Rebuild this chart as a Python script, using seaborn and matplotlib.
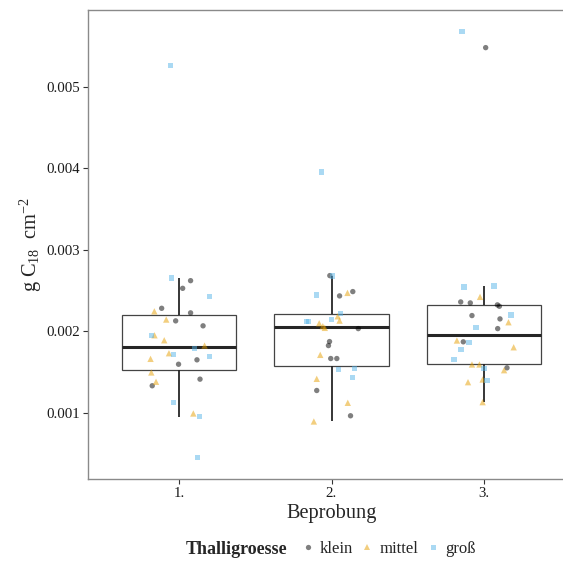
import numpy as np
import pandas as pd
import matplotlib
matplotlib.use("Agg")
import matplotlib.pyplot as plt
from matplotlib.lines import Line2D
import seaborn as sns

# Sampling rounds and thallus size classes
sample_labels = ["1.", "2.", "3."]
size_classes = ["klein", "mittel", "groß"]
class_colors = ["#000000", "#E69F00", "#56B4E9"]
class_markers = ["o", "^", "s"]

# g C18 per cm², one list per sampling round and size class
klein_1 = [0.002620, 0.002526, 0.002281, 0.002225, 0.002127, 0.002066, 0.001649, 0.001595, 0.001412, 0.001331]
mittel_1 = [0.002244, 0.002143, 0.001950, 0.001889, 0.001824, 0.001730, 0.001661, 0.001494, 0.001380, 0.000991]
gross_1 = [0.005254, 0.002653, 0.002421, 0.001943, 0.001784, 0.001710, 0.001686, 0.001122, 0.000951, 0.000449]

klein_2 = [0.002682, 0.002486, 0.002433, 0.002032, 0.001873, 0.001824, 0.001665, 0.001665, 0.001273, 0.000963]
mittel_2 = [0.002470, 0.002183, 0.002130, 0.002097, 0.002061, 0.002041, 0.001710, 0.001416, 0.001122, 0.000893]
gross_2 = [0.003952, 0.002678, 0.002445, 0.002220, 0.002115, 0.002115, 0.002139, 0.001527, 0.001539, 0.001429]

klein_3 = [0.005478, 0.002359, 0.002347, 0.002323, 0.002306, 0.002192, 0.002151, 0.002032, 0.001870, 0.001551]
mittel_3 = [0.002421, 0.002110, 0.001886, 0.001803, 0.001592, 0.001592, 0.001522, 0.001375, 0.001408, 0.001130]
gross_3 = [0.005678, 0.002543, 0.002555, 0.002200, 0.002041, 0.001857, 0.001772, 0.001649, 0.001543, 0.001392]

# Horizontal jitter of each point (fraction of the category spacing)
jit_klein_1 = [0.074, 0.022, -0.116, 0.074, -0.024, 0.156, 0.116, -0.005, 0.136, -0.178]
jit_mittel_1 = [-0.164, -0.086, -0.163, -0.099, 0.166, -0.068, -0.189, -0.184, -0.153, 0.092]
jit_gross_1 = [-0.059, -0.051, 0.199, -0.184, 0.101, -0.038, 0.199, -0.038, 0.134, 0.120]

jit_klein_2 = [-0.011, 0.140, 0.053, 0.176, -0.013, -0.020, -0.005, 0.035, -0.097, 0.125]
jit_mittel_2 = [0.105, 0.041, 0.053, -0.081, -0.057, -0.044, -0.074, -0.097, 0.107, -0.116]
jit_gross_2 = [-0.064, 0.009, -0.097, 0.061, -0.162, -0.149, 0.002, 0.048, 0.153, 0.140]

jit_klein_3 = [0.013, -0.151, -0.088, 0.090, 0.103, -0.077, 0.107, 0.092, -0.134, 0.153]
jit_mittel_3 = [-0.024, 0.163, -0.176, 0.197, -0.077, -0.028, 0.134, -0.103, -0.007, -0.007]
jit_gross_3 = [-0.143, -0.130, 0.068, 0.180, -0.051, -0.097, -0.149, -0.195, 0.002, 0.022]

values = {
    (0, "klein"): (klein_1, jit_klein_1), (0, "mittel"): (mittel_1, jit_mittel_1), (0, "groß"): (gross_1, jit_gross_1),
    (1, "klein"): (klein_2, jit_klein_2), (1, "mittel"): (mittel_2, jit_mittel_2), (1, "groß"): (gross_2, jit_gross_2),
    (2, "klein"): (klein_3, jit_klein_3), (2, "mittel"): (mittel_3, jit_mittel_3), (2, "groß"): (gross_3, jit_gross_3),
}

rows = []
for (pos, cls), (vals, jits) in values.items():
    for v, j in zip(vals, jits):
        rows.append({"pos": pos, "Thalligroesse": cls, "wert": v, "xj": pos + j})
df = pd.DataFrame(rows)

sns.set_style("white")
plt.rcParams["font.family"] = ["Liberation Serif", "DejaVu Serif"]
plt.rcParams["mathtext.fontset"] = "custom"
plt.rcParams["mathtext.rm"] = "Liberation Serif"
plt.rcParams["mathtext.it"] = "Liberation Serif:italic"
plt.rcParams["mathtext.bf"] = "Liberation Serif:bold"

W, H = 563, 561
fig = plt.figure(figsize=(W / 100, H / 100), dpi=100)
ax = fig.add_axes([88 / W, 1 - 479 / H, (575 - 88) / W, (479 - 10) / H])

sns.boxplot(
    data=df, x="pos", y="wert", native_scale=True, width=0.75,
    showfliers=False, color="white", linecolor="#333333", linewidth=0.9,
    whiskerprops={"linewidth": 1.3, "color": "#262626"},
    medianprops={"linewidth": 2.2, "color": "#262626"},
    capprops={"linewidth": 0},
    boxprops={"edgecolor": "#444444", "linewidth": 0.9},
    ax=ax, zorder=2,
)

palette = dict(zip(size_classes, class_colors))
sizes = {"klein": 15, "mittel": 21, "groß": 14}
for cls, mk in zip(size_classes, class_markers):
    sub = df[df["Thalligroesse"] == cls]
    sns.scatterplot(
        data=sub, x="xj", y="wert", color=palette[cls], marker=mk,
        s=sizes[cls], alpha=0.5, edgecolor="none", linewidth=0,
        legend=False, ax=ax, zorder=3,
    )

# y range with 5 % padding around the data
lo, hi = df["wert"].min(), df["wert"].max()
pad = 0.05 * (hi - lo)
ax.set_ylim(lo - pad, hi + pad)
ax.set_xlim(-0.6, 2.6)

yt = [0.001, 0.002, 0.003, 0.004, 0.005]
ax.set_yticks(yt, [f"{t:.3f}" for t in yt])
ax.set_xticks(range(len(sample_labels)), sample_labels)

ax.tick_params(axis="both", length=3.5, width=0.8, color="#333333",
               labelsize=10.7, labelcolor="#1a1a1a", pad=2)
ax.tick_params(axis="both", which="both", left=True, bottom=True)
for sp in ax.spines.values():
    sp.set_color("#8a8a8a")
    sp.set_linewidth(1.0)

ax.set_xlabel("Beprobung", fontsize=14.7, labelpad=3)
ax.set_ylabel(r"$\mathrm{g\ C_{18}\ \ cm^{-2}}$", fontsize=14.7, labelpad=2)

# Legend: title on the left, entries in one row
handles = [
    Line2D([], [], linestyle="none", marker=mk, color=c, alpha=0.5,
           markersize=ms, markeredgewidth=0)
    for mk, c, ms in zip(class_markers, class_colors, [3.8, 4.5, 3.6])
]
fig.legend(handles, size_classes, loc="center left",
           bbox_to_anchor=(302.5 / W, 1 - 549 / H), ncol=3, frameon=False,
           handlelength=0.6, handletextpad=0.45, columnspacing=0.55,
           borderpad=0, borderaxespad=0, fontsize=12)
fig.text(186 / W, 1 - 549 / H, "Thalligroesse", fontsize=13,
         fontweight="bold", ha="left", va="center")

fig.savefig("out.png", dpi=100)
